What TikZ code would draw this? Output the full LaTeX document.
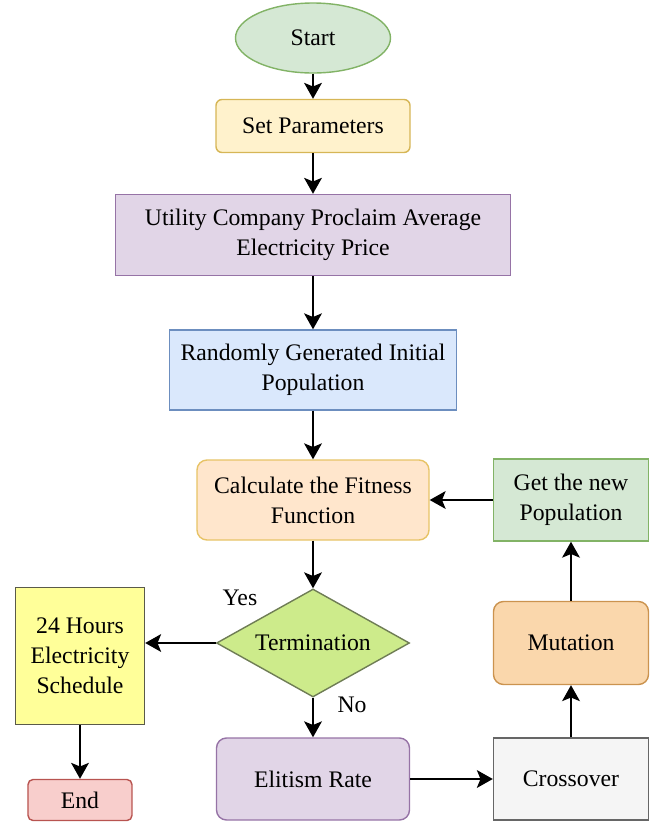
\documentclass[tikz,border=0pt]{standalone}
\usepackage{fontspec}
\setmainfont{Liberation Serif}
\usepackage{tikz}
\usetikzlibrary{shapes.geometric, arrows.meta}

\definecolor{greenfill}{HTML}{D5E8D4}
\definecolor{greenline}{HTML}{82B366}
\definecolor{yellowfill}{HTML}{FFF2CC}
\definecolor{yellowline}{HTML}{D6B656}
\definecolor{purplefill}{HTML}{E1D5E7}
\definecolor{purpleline}{HTML}{9673A6}
\definecolor{bluefill}{HTML}{DAE8FC}
\definecolor{blueline}{HTML}{6C8EBF}
\definecolor{peachfill}{HTML}{FFE6CC}
\definecolor{peachline}{HTML}{D79B00}
\definecolor{limefill}{HTML}{CDEB8B}
\definecolor{limeline}{HTML}{6F7D55}
\definecolor{lemonfill}{HTML}{FFFF99}
\definecolor{lemonline}{HTML}{5A5A4A}
\definecolor{redfill}{HTML}{F8CECC}
\definecolor{redline}{HTML}{B85450}
\definecolor{grayfill}{HTML}{F5F5F5}
\definecolor{grayline}{HTML}{666666}
\definecolor{orangefill}{HTML}{FAD7AC}
\definecolor{orangeline}{HTML}{B46504}

\begin{document}
\begin{tikzpicture}[font=\fontsize{13.5}{17}\selectfont]
\tikzstyle{startstop} = [ellipse, minimum width=3.1cm, minimum height=1.4cm, align=center, draw=greenline, line width=0.8pt, fill=greenfill]
\tikzstyle{input} = [rectangle, rounded corners=0.12cm, minimum width=3.88cm, minimum height=1.06cm, align=center, draw=yellowline, line width=0.8pt, fill=yellowfill]
\tikzstyle{proc} = [rectangle, minimum height=1.6cm, align=center, line width=0.8pt]
\tikzstyle{rproc} = [rectangle, rounded corners=0.2cm, minimum height=1.64cm, align=center, line width=0.8pt]
\tikzstyle{decision} = [diamond, shape aspect=1.8, minimum width=3.86cm, minimum height=2.16cm, inner sep=0pt, align=center, draw=limeline, line width=0.8pt, fill=limefill]

\tikzstyle{arrow} = [line width=1.5pt, -{Stealth[length=9pt, width=10pt, inset=2pt]}]

\useasboundingbox (0,0) rectangle (13.1,-16.44);

\node (start) [startstop] at (6.26,-0.76) {Start};
\node (set) [input, below of=start, node distance=1.76cm] {Set Parameters};
\node (util) [proc, below of=set, node distance=2.18cm, minimum width=7.9cm, minimum height=1.62cm, draw=purpleline, fill=purplefill] {Utility Company Proclaim Average\\Electricity Price};
\node (rand) [proc, below of=util, node distance=2.7cm, minimum width=5.74cm, draw=blueline, fill=bluefill] {Randomly Generated Initial\\Population};
\node (calc) [rproc, below of=rand, node distance=2.6cm, minimum width=4.64cm, minimum height=1.6cm, draw=peachline!60, fill=peachfill] {Calculate the Fitness\\Function};
\node (term) [decision, below of=calc, node distance=2.86cm] {Termination};
\node (elit) [rproc, below of=term, node distance=2.72cm, minimum width=3.86cm, draw=purpleline, fill=purplefill] {Elitism Rate};
\node (newpop) [proc, right of=calc, node distance=5.16cm, minimum width=3.1cm, minimum height=1.64cm, draw=greenline, fill=greenfill] {Get the new\\Population};
\node (mut) [rproc, right of=term, node distance=5.16cm, minimum width=3.1cm, minimum height=1.66cm, draw=orangeline!70, fill=orangefill] {Mutation};
\node (cross) [proc, right of=elit, node distance=5.16cm, minimum width=3.1cm, minimum height=1.64cm, draw=grayline, fill=grayfill] {Crossover};
\node (sched) [proc, left of=term, node distance=4.66cm, yshift=-0.26cm, minimum width=2.58cm, minimum height=2.74cm, draw=lemonline, fill=lemonfill] {24 Hours\\Electricity\\Schedule};
\node (end) [rproc, below of=sched, node distance=2.88cm, rounded corners=0.1cm, minimum width=2.08cm, minimum height=0.82cm, draw=redline, fill=redfill] {End};

\node (yes) at (4.8,-11.96) {Yes};
\node (no) at (7.04,-14.1) {No};

\draw [arrow] (start) -- (set);
\draw [arrow] (set) -- (util);
\draw [arrow] (util) -- (rand);
\draw [arrow] (rand) -- (calc);
\draw [arrow] (calc) -- (term);
\draw [arrow] (term) -- (elit);
\draw [arrow] (term.west) -- (term.west -| sched.east);
\draw [arrow] (sched) -- (end);

\draw [arrow] (elit) -- (cross);
\draw [arrow] (cross) -- (mut);
\draw [arrow] (mut) -- (newpop);
\draw [arrow] (newpop) -- (calc);

\end{tikzpicture}
\end{document}
